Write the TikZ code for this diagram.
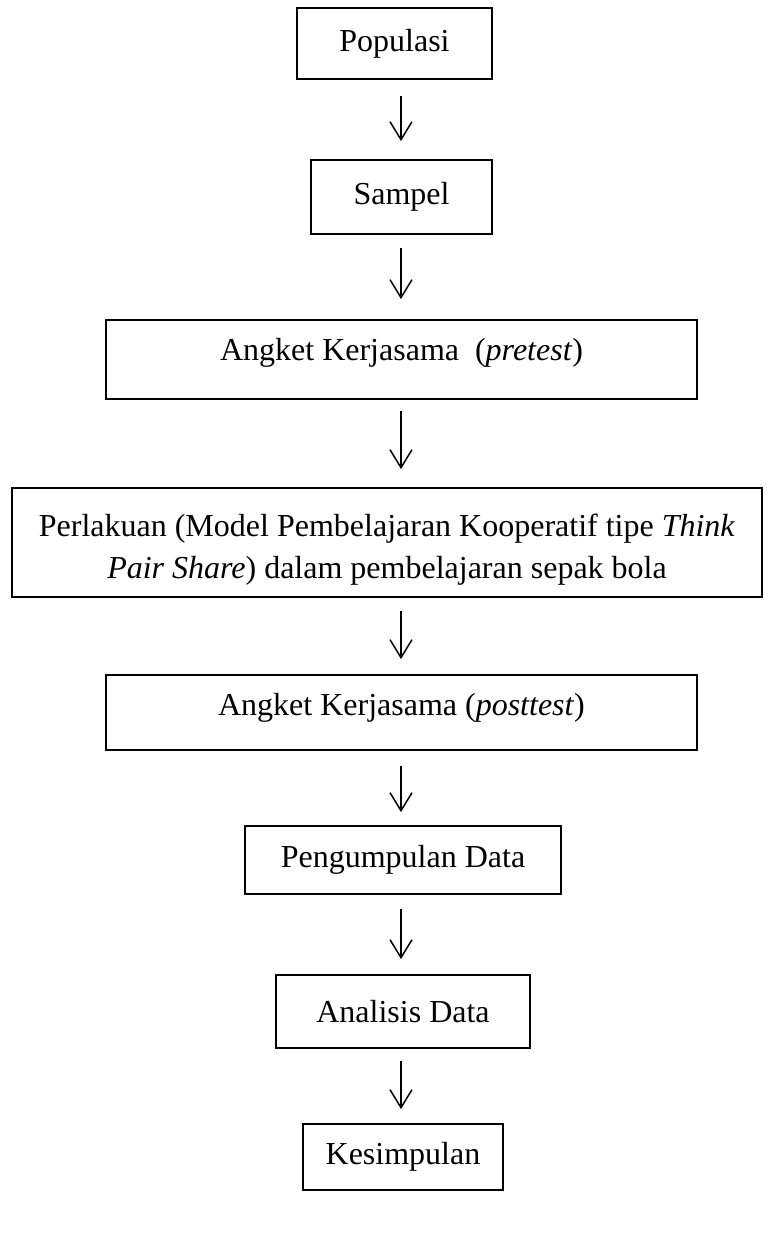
\documentclass[tikz,border=0pt]{standalone}
\usepackage{fontspec}
\setmainfont{Liberation Serif}
\usetikzlibrary{arrows.meta}
\begin{document}
\begin{tikzpicture}[x=1pt,y=1pt,
  box/.style={draw, line width=1.8pt, inner sep=0pt, align=center,
    font=\fontsize{32}{42}\selectfont},
  txt/.style={inner sep=0pt, align=center, font=\fontsize{32}{42}\selectfont},
  arr/.style={line width=1.5pt, -{Straight Barb[length=18pt,width=22pt]}}]
\useasboundingbox (0,0) rectangle (768,-1242);
\coordinate (ax) at (401,0);
\node[box, minimum width=195pt, minimum height=71pt] (pop) at (394.5,-43.5) {Populasi};
\node[box, minimum width=181pt, minimum height=74pt] (sam) at (401.5,-197) {Sampel};
\node[box, minimum width=591pt, minimum height=79pt] (pre) at (401.5,-359.5) {\raisebox{7pt}[\height][\depth]{Angket Kerjasama\ \ (\textit{pretest})}};
\node[box, minimum width=750pt, minimum height=109pt] (per) at (387,-542.5) {};
\node[txt] (pertxt) at (387,-550) {Perlakuan (Model Pembelajaran Kooperatif tipe \textit{Think}\\\textit{Pair Share}) dalam pembelajaran sepak bola};
\node[box, minimum width=591pt, minimum height=75pt] (post) at (401.5,-712.5) {\raisebox{5pt}[\height][\depth]{Angket Kerjasama (\textit{posttest})}};
\node[box, minimum width=316pt, minimum height=68pt] (kum) at (403,-860) {Pengumpulan Data};
\node[box, minimum width=254pt, minimum height=73pt] (ana) at (403,-1011.5) {Analisis Data};
\node[box, minimum width=200pt, minimum height=66pt] (kes) at (403,-1157) {Kesimpulan};
\draw[arr] ([yshift=-16pt]pop.south -| ax) -- ([yshift=18pt]sam.north -| ax);
\draw[arr] ([yshift=-13pt]sam.south -| ax) -- ([yshift=20pt]pre.north -| ax);
\draw[arr] ([yshift=-11pt]pre.south -| ax) -- ([yshift=18pt]per.north -| ax);
\draw[arr] ([yshift=-13pt]per.south -| ax) -- ([yshift=15pt]post.north -| ax);
\draw[arr] ([yshift=-15pt]post.south -| ax) -- ([yshift=13pt]kum.north -| ax);
\draw[arr] ([yshift=-14pt]kum.south -| ax) -- ([yshift=15pt]ana.north -| ax);
\draw[arr] ([yshift=-12pt]ana.south -| ax) -- ([yshift=14pt]kes.north -| ax);
\end{tikzpicture}
\end{document}
